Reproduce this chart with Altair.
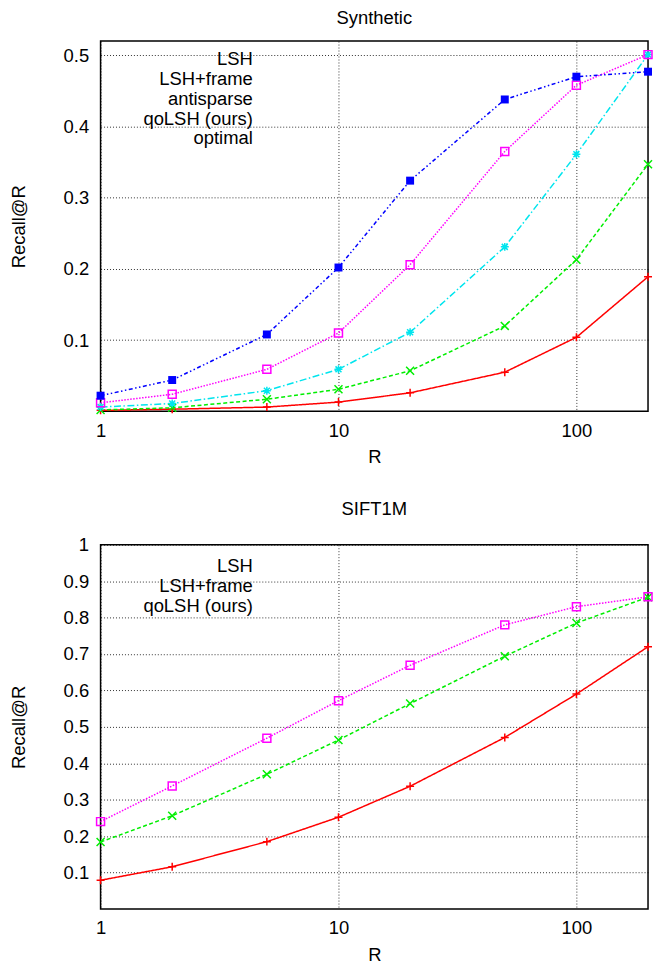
import altair as alt
import pandas as pd

FONT = "Liberation Sans"
FS = 18.5

R = [1, 2, 5, 10, 20, 50, 100, 200]

# Synthetic panel
syn_methods = ["LSH", "LSH+frame", "antisparse", "qoLSH (ours)", "optimal"]
syn_lsh = [0.0014, 0.003, 0.006, 0.013, 0.026, 0.055, 0.104, 0.189]
syn_frame = [0.002, 0.005, 0.017, 0.031, 0.057, 0.120, 0.213, 0.347]
syn_anti = [0.006, 0.011, 0.029, 0.059, 0.111, 0.231, 0.361, 0.501]
syn_qo = [0.012, 0.024, 0.059, 0.110, 0.206, 0.365, 0.458, 0.501]
syn_opt = [0.022, 0.044, 0.108, 0.202, 0.324, 0.438, 0.470, 0.477]

# SIFT1M panel
sift_methods = ["LSH", "LSH+frame", "qoLSH (ours)"]
sift_lsh = [0.079, 0.116, 0.185, 0.252, 0.337, 0.471, 0.590, 0.720]
sift_frame = [0.184, 0.256, 0.370, 0.464, 0.564, 0.694, 0.785, 0.856]
sift_qo = [0.240, 0.338, 0.469, 0.572, 0.669, 0.780, 0.830, 0.857]

x_ticks = [1, 10, 100]
syn_y_ticks = [0.1, 0.2, 0.3, 0.4, 0.5]
sift_y_ticks = [0.1, 0.2, 0.3, 0.4, 0.5, 0.6, 0.7, 0.8, 0.9, 1.0]

style = {
    "LSH": dict(color="#ff0000", dash=[1, 0], filled=False,
                mark="M-1,0L1,0M0,-1L0,1",
                leg="M-1,0L1,0M0,-0.15L0,0.15"),
    "LSH+frame": dict(color="#00ee00", dash=[4, 2.5], filled=False,
                      mark="M-1,-1L1,1M-1,1L1,-1",
                      leg="M-1,0L1,0M-0.12,-0.12L0.12,0.12M-0.12,0.12L0.12,-0.12"),
    "antisparse": dict(color="#00e5ee", dash=[7, 2.5, 1.5, 2.5], filled=False,
                       mark="M-1,0L1,0M0,-1L0,1M-0.75,-0.75L0.75,0.75M-0.75,0.75L0.75,-0.75",
                       leg="M-1,0L1,0M0,-0.15L0,0.15M-0.11,-0.11L0.11,0.11M-0.11,0.11L0.11,-0.11"),
    "qoLSH (ours)": dict(color="#ff00ff", dash=[1.5, 1.5], filled=False,
                         mark="M-1,-1L1,-1L1,1L-1,1Z",
                         leg="M-1,0L-0.14,0M0.14,0L1,0M-0.14,-0.14L0.14,-0.14L0.14,0.14L-0.14,0.14Z"),
    "optimal": dict(color="#0000ff", dash=[4, 2.5, 1.5, 2.5, 1.5, 2.5], filled=True,
                    mark="M-1,-1L1,-1L1,1L-1,1Z",
                    leg="M-1,0L1,0M-0.14,-0.14L0.14,-0.14L0.14,0.14L-0.14,0.14Z"),
}


def make_df(methods, series):
    rows = []
    for m, vals in zip(methods, series):
        for r, v in zip(R, vals):
            rows.append({"R": r, "recall": v, "method": m, "series": m})
    return pd.DataFrame(rows)


def panel(methods, series, title, ymax, yticks, height, legend_y, title_offset):
    df = make_df(methods, series)
    colors = [style[m]["color"] for m in methods]
    dashes = [style[m]["dash"] for m in methods]
    leg_paths = [style[m]["leg"] for m in methods]

    x = alt.X("R:Q", title="R",
              scale=alt.Scale(type="log", domain=[1, 200], nice=False),
              axis=alt.Axis(values=x_ticks, format="d", labelPadding=10,
                            titlePadding=8, labelFlush=False))
    y = alt.Y("recall:Q", title="Recall@R",
              scale=alt.Scale(domain=[0, ymax], nice=False, zero=True),
              axis=alt.Axis(values=yticks, format=".1~f", labelPadding=12,
                            titlePadding=35))

    legend = alt.Legend(
        title=None, orient="none", legendX=164, legendY=legend_y,
        symbolSize=2916, symbolStrokeWidth=1.5, symbolOpacity=1,
        clipHeight=19.7, labelAlign="right", labelOffset=alt.ExprRef("-67"),
        labelFont=FONT, labelFontSize=FS, labelColor="black",
        rowPadding=0, padding=0,
    )
    color_scale = alt.Scale(domain=methods, range=colors)

    base = alt.Chart(df)
    lines = base.mark_line(strokeWidth=1.5).encode(
        x=x, y=y,
        color=alt.Color("method:N", scale=color_scale, legend=legend),
        strokeDash=alt.StrokeDash("method:N",
                                  scale=alt.Scale(domain=methods, range=dashes),
                                  legend=legend),
    )
    point_layers = []
    for m in methods:
        s = style[m]
        point_layers.append(
            base.transform_filter(alt.datum.method == m).mark_point(
                shape=s["mark"], size=64, strokeWidth=1.5, opacity=1,
                color=s["color"], filled=s["filled"],
            ).encode(x=x, y=y)
        )
    # invisible layer that only supplies the legend sample symbols
    legend_layer = base.mark_point(
        strokeWidth=1.5, opacity=0, filled=False
    ).encode(
        x=x, y=y,
        color=alt.Color("method:N", scale=color_scale, legend=legend),
        shape=alt.Shape("series:N", scale=alt.Scale(domain=methods, range=leg_paths),
                        legend=None),
    )
    return alt.layer(lines, *point_layers, legend_layer).properties(
        width=550, height=height,
        title=alt.TitleParams(title, font=FONT, fontSize=FS, fontWeight="normal",
                              color="black", offset=title_offset),
    )


top = panel(syn_methods, [syn_lsh, syn_frame, syn_anti, syn_qo, syn_opt],
            "Synthetic", 0.52, syn_y_ticks, 372, 8, 14)
bottom = panel(sift_methods, [sift_lsh, sift_frame, sift_qo],
               "SIFT1M", 1.0, sift_y_ticks, 366, 12, 17)

chart = alt.vconcat(top, bottom, spacing=32).resolve_scale(
    color="independent", strokeDash="independent", shape="independent"
).properties(
    padding={"left": 0, "top": -3, "right": -3, "bottom": 0}
).configure_view(
    stroke="black", strokeWidth=1.5
).configure_axis(
    labelFont=FONT, titleFont=FONT, labelFontSize=FS, titleFontSize=FS,
    titleFontWeight="normal", labelColor="black", titleColor="black",
    grid=True, gridColor="black", gridDash=[1, 2], gridOpacity=0.8,
    domain=False, ticks=False,
)

chart.save("out.html", embed_options={"renderer": "svg", "actions": False})
